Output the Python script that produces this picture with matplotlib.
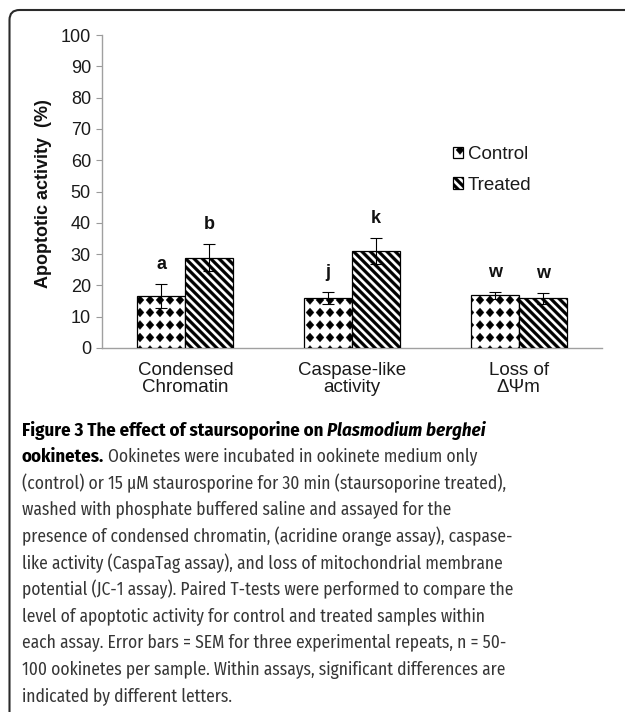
import numpy as np
import matplotlib
matplotlib.use("Agg")
import matplotlib.pyplot as plt
import matplotlib.hatch as mhatch
from matplotlib.path import Path
from matplotlib.patches import PathPatch
from matplotlib import font_manager as fm

# ---------------- data ----------------
categories = ["Condensed\nChromatin", "Caspase-like\nactivity", "Loss of\n\u0394\u03a8m"]
series_names = ["Control", "Treated"]
control_vals = [16.5, 16.0, 16.9]
control_err = [3.8, 2.0, 1.1]
treated_vals = [28.8, 30.9, 15.9]
treated_err = [4.3, 4.1, 1.7]
control_letters = ["a", "j", "w"]
treated_letters = ["b", "k", "w"]
y_ticks = list(range(0, 101, 10))
y_label = "Apoptotic activity  (%)"

caption_head = "Figure 3 The effect of staursoporine on"
caption_head_it = "Plasmodium berghei"
caption_head2 = "ookinetes."
caption_lines = [
    "Ookinetes were incubated in ookinete medium only",
    "(control) or 15 \u03bcM staurosporine for 30 min (staursoporine treated),",
    "washed with phosphate buffered saline and assayed for the",
    "presence of condensed chromatin, (acridine orange assay), caspase-",
    "like activity (CaspaTag assay), and loss of mitochondrial membrane",
    "potential (JC-1 assay). Paired T-tests were performed to compare the",
    "level of apoptotic activity for control and treated samples within",
    "each assay. Error bars = SEM for three experimental repeats, n = 50-",
    "100 ookinetes per sample. Within assays, significant differences are",
    "indicated by different letters.",
]


# ---------------- custom hatch patterns ----------------
class DiamondGrid(mhatch.HatchPatternBase):
    filled = True

    def __init__(self, hatch, density):
        self.nx = 10 if "*" in hatch else 0
        self.ny = 8 if "*" in hatch else 0
        self.num_vertices = (self.nx + 1) * (self.ny + 1) * 5 if self.nx else 0

    def set_vertices_and_codes(self, vertices, codes):
        rx = 0.40 / self.nx
        ry = 0.36 / self.ny
        k = 0
        for i in range(self.nx + 1):
            for j in range(self.ny + 1):
                cx, cy = i / self.nx, j / self.ny
                vertices[k:k + 5] = [(cx - rx, cy), (cx, cy - ry), (cx + rx, cy),
                                     (cx, cy + ry), (cx - rx, cy)]
                codes[k:k + 5] = [Path.MOVETO, Path.LINETO, Path.LINETO,
                                  Path.LINETO, Path.CLOSEPOLY]
                k += 5


class DiagBands(mhatch.HatchPatternBase):
    filled = True

    def __init__(self, hatch, density):
        self.n = 12 if "\\" in hatch else 0
        self.nb = 2 * self.n + 4 if self.n else 0
        self.num_vertices = self.nb * 5

    def set_vertices_and_codes(self, vertices, codes):
        n = self.n
        w = 0.5 / n
        k = 0
        for b in range(self.nb):
            c0 = (b - 2) / n
            vertices[k:k + 5] = [(c0 + 0.5, -0.5), (c0 + w + 0.5, -0.5),
                                 (c0 + w - 1.5, 1.5), (c0 - 1.5, 1.5),
                                 (c0 + 0.5, -0.5)]
            codes[k:k + 5] = [Path.MOVETO, Path.LINETO, Path.LINETO,
                              Path.LINETO, Path.CLOSEPOLY]
            k += 5


mhatch._hatch_types = [DiamondGrid, DiagBands]

# ---------------- fonts ----------------
ttf = fm.fontManager.ttflist
avail = {f.name for f in ttf}
base_font = "Liberation Sans" if "Liberation Sans" in avail else "DejaVu Sans"
cands = ["Fira Sans Condensed", "PT Sans Narrow", "IBM Plex Sans Condensed",
         "Roboto Condensed", "Liberation Sans Narrow"]
cap_font = base_font
for cand in cands:
    if cand in avail:
        cap_font = cand
        break

plt.rcParams["font.family"] = [base_font, "DejaVu Sans"]
plt.rcParams["hatch.linewidth"] = 0.2
plt.rcParams["hatch.color"] = "black"

W, H = 625, 712
DPI = 100
fig = plt.figure(figsize=(W / DPI, H / DPI), dpi=DPI)

ax_left, ax_right, ax_top, ax_bot = 102, 602, 35, 348
ax = fig.add_axes([ax_left / W, 1 - ax_bot / H, (ax_right - ax_left) / W,
                   (ax_bot - ax_top) / H])

x = np.arange(len(categories))
bw = 0.288
err_kw = dict(ecolor="black", elinewidth=0.8, capsize=4.5, capthick=0.8)
b1 = ax.bar(x - bw / 2, control_vals, bw, yerr=control_err, color="white",
            edgecolor="black", linewidth=0.9, hatch="*", label=series_names[0],
            error_kw=err_kw, zorder=3)
b2 = ax.bar(x + bw / 2, treated_vals, bw, yerr=treated_err, color="white",
            edgecolor="black", linewidth=0.9, hatch="\\", label=series_names[1],
            error_kw=err_kw, zorder=3)

for i in range(len(categories)):
    ax.text(x[i] - bw / 2, control_vals[i] + control_err[i] + 4.8, control_letters[i],
            ha="center", va="baseline", fontsize=13, fontweight="bold", color="#111111")
    ax.text(x[i] + bw / 2, treated_vals[i] + treated_err[i] + 4.8, treated_letters[i],
            ha="center", va="baseline", fontsize=13, fontweight="bold", color="#111111")

ax.set_xlim(-0.5, len(categories) - 0.5)
ax.set_ylim(0, 100)
ax.set_yticks(y_ticks)
ax.set_xticks(x)
ax.set_xticklabels(categories, fontsize=13.5, linespacing=1.0, color="#1a1a1a")
ax.tick_params(axis="x", length=0, pad=10)
ax.tick_params(axis="y", direction="out", length=4, width=0.8, color="#9a9a9a",
               labelsize=13, pad=4, labelcolor="#1a1a1a")
for s in ["top", "right"]:
    ax.spines[s].set_visible(False)
for s in ["left", "bottom"]:
    ax.spines[s].set_color("#a0a0a0")
    ax.spines[s].set_linewidth(1.0)

ax.text((43 - ax_left) / (ax_right - ax_left), 0.495, y_label, transform=ax.transAxes,
        rotation=90, ha="center", va="center", fontsize=13, fontweight="bold",
        color="#111111")

leg = ax.legend(loc="upper left", bbox_to_anchor=(453 / W, 1 - 146 / H),
                bbox_transform=fig.transFigure, frameon=False, fontsize=13.5,
                handlelength=0.55, handleheight=0.55, handletextpad=0.25,
                labelspacing=0.72, borderpad=0, borderaxespad=0)
for t in leg.get_texts():
    t.set_color("#1a1a1a")

# ---------------- frame ----------------
def fx(px):
    return px / W

def fy(py):
    return 1 - py / H

frame = Path([(fx(9.5), fy(712)), (fx(9.5), fy(20)), (fx(9.5), fy(10)),
              (fx(19.5), fy(10)), (fx(625), fy(10))],
             [Path.MOVETO, Path.LINETO, Path.CURVE3, Path.CURVE3, Path.LINETO])
fig.add_artist(PathPatch(frame, transform=fig.transFigure, fill=False,
                         edgecolor="#2a2a2a", linewidth=1.5))

# ---------------- caption ----------------
renderer = fig.canvas.get_renderer()


def text_width(s, **kw):
    t = fig.text(0, 0, s, **kw)
    w = t.get_window_extent(renderer).width
    t.remove()
    return w


def space_w(**kw):
    return text_width("x x", **kw) - text_width("xx", **kw)


# body size: fit the longest body line to its width in the reference
cap_size = 10 * 490 / text_width(caption_lines[5], family=cap_font, fontsize=10)
# heading size: fit the first (bold) line to its width in the reference
w_head = (text_width(caption_head, family=cap_font, fontsize=10, fontweight="bold")
          + space_w(family=cap_font, fontsize=10, fontweight="bold")
          + text_width(caption_head_it, family=cap_font, fontsize=10,
                       fontweight="bold", style="italic"))
head_size = 10 * 465 / w_head


def draw_runs(runs, x0, y0):
    xc = x0
    for s, kw in runs:
        t = fig.text(fx(xc), fy(y0), s, ha="left", va="baseline", **kw)
        bb = t.get_window_extent(renderer)
        xc = bb.x1 + space_w(**kw)


bold = dict(family=cap_font, fontsize=head_size, fontweight="bold", color="black")
boldit = dict(bold, style="italic")
reg = dict(family=cap_font, fontsize=cap_size, color="#363636")

x0 = 21.7
y_first = 435.7
dy = 26.6
draw_runs([(caption_head, bold), (caption_head_it, boldit)], x0, y_first)
draw_runs([(caption_head2, bold), (caption_lines[0], reg)], x0, y_first + dy)
for i, line in enumerate(caption_lines[1:]):
    draw_runs([(line, reg)], x0, y_first + dy * (i + 2))

fig.savefig("out.png", dpi=DPI)
